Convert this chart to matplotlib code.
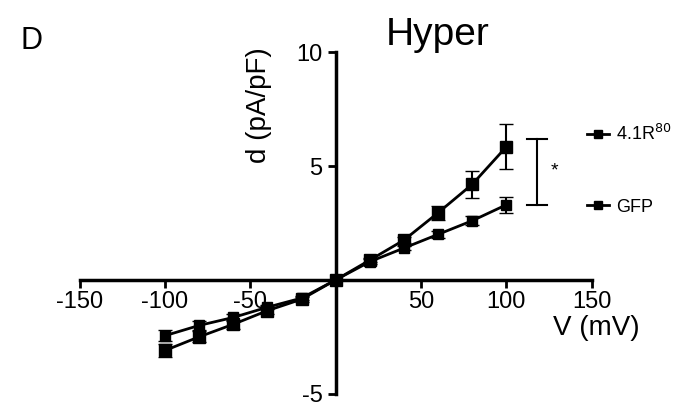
import matplotlib.pyplot as plt
from matplotlib.lines import Line2D

plt.rcParams['font.family'] = ['Liberation Sans', 'DejaVu Sans']
plt.rcParams['axes.unicode_minus'] = False

# I-V data (Hyper condition)
voltage = [-100, -80, -60, -40, -20, 0, 20, 40, 60, 80, 100]
r80 = [-3.1, -2.5, -1.95, -1.35, -0.85, 0, 0.87, 1.75, 2.95, 4.2, 5.85]
r80_err = [0.3, 0.25, 0.2, 0.15, 0.1, 0, 0.1, 0.15, 0.3, 0.6, 1.0]
gfp = [-2.45, -2.0, -1.65, -1.2, -0.8, 0, 0.8, 1.4, 2.0, 2.6, 3.3]
gfp_err = [0.25, 0.2, 0.15, 0.1, 0.1, 0, 0.1, 0.1, 0.15, 0.2, 0.35]

xticks = [-150, -100, -50, 50, 100, 150]
yticks = [-5, 5, 10]

fig = plt.figure(figsize=(6.81, 4.08), dpi=100)
ax = fig.add_axes([0.117, 0.035, 0.752, 0.837])

ax.errorbar(voltage, r80, yerr=r80_err, color='black', marker='s', markersize=8,
            linewidth=2, capsize=5, elinewidth=1.5)
ax.errorbar(voltage, gfp, yerr=gfp_err, color='black', marker='s', markersize=7,
            linewidth=2, capsize=5, elinewidth=1.5)

ax.set_xlim(-150, 150)
ax.set_ylim(-5, 10)
ax.spines['left'].set_position(('data', 0))
ax.spines['bottom'].set_position(('data', 0))
ax.spines['right'].set_visible(False)
ax.spines['top'].set_visible(False)
for s in ['left', 'bottom']:
    ax.spines[s].set_linewidth(2.5)
ax.set_xticks(xticks)
ax.set_yticks(yticks)
ax.tick_params(axis='both', labelsize=17, width=2, length=6, direction='out')
ax.tick_params(axis='x', pad=2)

ax.set_xlabel('V (mV)', fontsize=20)
ax.xaxis.set_label_coords(1.008, 0.23)
ax.set_ylabel('d (pA/pF)', fontsize=20)
ax.yaxis.set_label_coords(0.375, 0.845)

# significance bracket
ax.plot([118, 118], [3.3, 6.2], color='black', linewidth=1.5)
ax.plot([112, 124], [6.2, 6.2], color='black', linewidth=1.5)
ax.plot([112, 124], [3.3, 3.3], color='black', linewidth=1.5)
ax.text(126, 4.8, '*', fontsize=14, ha='left', va='center')

handles = [Line2D([], [], color='black', marker='s', markersize=6, linewidth=2),
           Line2D([], [], color='black', marker='s', markersize=6, linewidth=2)]
fig.legend(handles, ['4.1R$^{80}$', 'GFP'], loc='upper left', bbox_to_anchor=(0.838, 0.735),
           frameon=False, fontsize=13, labelspacing=3.0, handlelength=1.2,
           handletextpad=0.4)

fig.text(0.643, 0.914, 'Hyper', fontsize=28, ha='center', va='center')
fig.text(0.03, 0.90, 'D', fontsize=22, ha='left', va='center')

fig.savefig('out.png', dpi=100)
